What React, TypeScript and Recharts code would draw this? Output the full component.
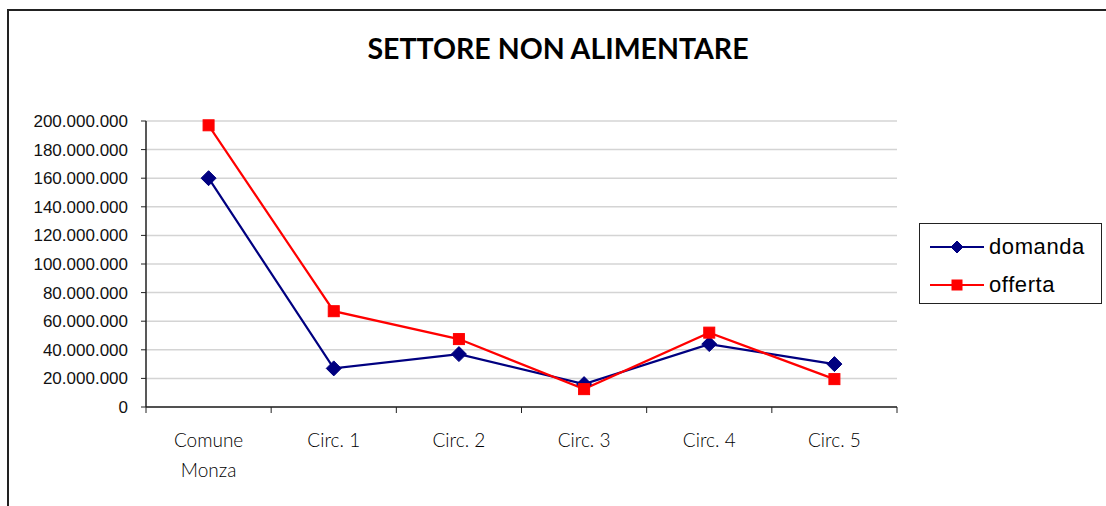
import React from 'react';
import {
  LineChart,
  Line,
  XAxis,
  YAxis,
  CartesianGrid,
} from 'recharts';

const categories = ['Comune\nMonza', 'Circ. 1', 'Circ. 2', 'Circ. 3', 'Circ. 4', 'Circ. 5'];
const domanda = [160000000, 27000000, 37000000, 16000000, 44000000, 30000000];
const offerta = [197000000, 67000000, 47500000, 12500000, 52000000, 19500000];
const yTicks = [0, 20000000, 40000000, 60000000, 80000000, 100000000, 120000000, 140000000, 160000000, 180000000, 200000000];

const data = categories.map((name, i) => ({
  name,
  domanda: domanda[i],
  offerta: offerta[i],
}));

const NAVY = '#000080';
const RED = '#ff0000';
const GOTHIC = 'Lato, "Open Sans", sans-serif';

const formatNumber = (v: number) => String(v).replace(/\B(?=(\d{3})+(?!\d))/g, '.');

function Diamond({ cx, cy, size = 7.5 }: { cx: number; cy: number; size?: number }) {
  return (
    <path
      d={`M${cx},${cy - size} L${cx + size},${cy} L${cx},${cy + size} L${cx - size},${cy} Z`}
      fill={NAVY}
      stroke={NAVY}
    />
  );
}

function Square({ cx, cy, size = 5.5 }: { cx: number; cy: number; size?: number }) {
  return <rect x={cx - size} y={cy - size} width={size * 2} height={size * 2} fill={RED} stroke={RED} />;
}

function CategoryTick(props: any) {
  const { x, y, payload, index, width, visibleTicksCount } = props;
  const band = width / visibleTicksCount;
  const lines = String(payload.value).split('\n');
  const axisY = y - 6;
  return (
    <g>
      <line x1={x - band / 2} y1={axisY} x2={x - band / 2} y2={axisY + 6} stroke="#222" />
      {index === visibleTicksCount - 1 && (
        <line x1={x + band / 2} y1={axisY} x2={x + band / 2} y2={axisY + 6} stroke="#222" />
      )}
      {lines.map((l, i) => (
        <text
          key={i}
          x={x}
          y={axisY + 40 + i * 30}
          textAnchor="middle"
          fontFamily={GOTHIC}
          fontWeight={300}
          fontSize={19}
          fill="#000"
        >
          {l}
        </text>
      ))}
    </g>
  );
}

function LegendBox() {
  const rows = [
    { label: 'domanda', color: NAVY, marker: 'diamond' },
    { label: 'offerta', color: RED, marker: 'square' },
  ];
  return (
    <div
      style={{
        position: 'absolute',
        left: 919,
        top: 223,
        width: 183,
        height: 81,
        border: '1px solid #222',
        boxSizing: 'border-box',
        background: '#fff',
        paddingTop: 4,
      }}
    >
      {rows.map((r) => (
        <div key={r.label} style={{ display: 'flex', alignItems: 'center', height: 38 }}>
          <svg width={70} height={20} style={{ marginLeft: 8 }}>
            <line x1={2} y1={10} x2={56} y2={10} stroke={r.color} strokeWidth={2} />
            {r.marker === 'diamond' ? <Diamond cx={29} cy={10} size={6} /> : <Square cx={29} cy={10} size={5} />}
          </svg>
          <span
            style={{
              fontFamily: '"Liberation Sans", Arial, sans-serif',
              fontSize: 22,
              letterSpacing: 0.6,
              color: '#000',
              marginLeft: -9,
            }}
          >
            {r.label}
          </span>
        </div>
      ))}
    </div>
  );
}

export default function App() {
  return (
    <div style={{ position: 'absolute', left: 0, top: 0, width: 1106, height: 506, overflow: 'hidden', background: '#fff' }}>
      <div
        style={{
          position: 'absolute',
          left: 7,
          top: 9,
          width: 1120,
          height: 520,
          borderLeft: '2px solid #222',
          borderTop: '2px solid #222',
        }}
      />
      <div
        style={{
          position: 'absolute',
          left: 0,
          top: 31,
          width: 1116,
          textAlign: 'center',
          fontFamily: GOTHIC,
          fontWeight: 700,
          fontSize: 28.5,
          color: '#000',
        }}
      >
        SETTORE NON ALIMENTARE
      </div>
      <div style={{ position: 'absolute', left: 0, top: 0 }}>
        <LineChart
          width={1106}
          height={506}
          data={data}
          margin={{ top: 121, right: 209, left: 0, bottom: 0 }}
        >
          <CartesianGrid vertical={false} stroke="#d4d4d4" strokeWidth={1.5} />
          <XAxis
            dataKey="name"
            scale="band"
            height={99}
            interval={0}
            tickLine={false}
            tickSize={6}
            tickMargin={0}
            axisLine={{ stroke: '#222', strokeWidth: 1.5 }}
            tick={<CategoryTick />}
          />
          <YAxis
            width={146}
            domain={[0, 200000000]}
            ticks={yTicks}
            interval={0}
            tickFormatter={formatNumber}
            tickSize={5}
            tickMargin={13}
            axisLine={{ stroke: '#222', strokeWidth: 1.5 }}
            tickLine={{ stroke: '#222' }}
            tick={{ fontFamily: '"Liberation Sans", Arial, sans-serif', fontSize: 17, fill: '#111' }}
          />
          <Line
            dataKey="domanda"
            stroke={NAVY}
            strokeWidth={2.2}
            isAnimationActive={false}
            dot={(p: any) => <Diamond key={`d${p.index}`} cx={p.cx} cy={p.cy} />}
          />
          <Line
            dataKey="offerta"
            stroke={RED}
            strokeWidth={2.2}
            isAnimationActive={false}
            dot={(p: any) => <Square key={`o${p.index}`} cx={p.cx} cy={p.cy} />}
          />
        </LineChart>
      </div>
      <LegendBox />
    </div>
  );
}
